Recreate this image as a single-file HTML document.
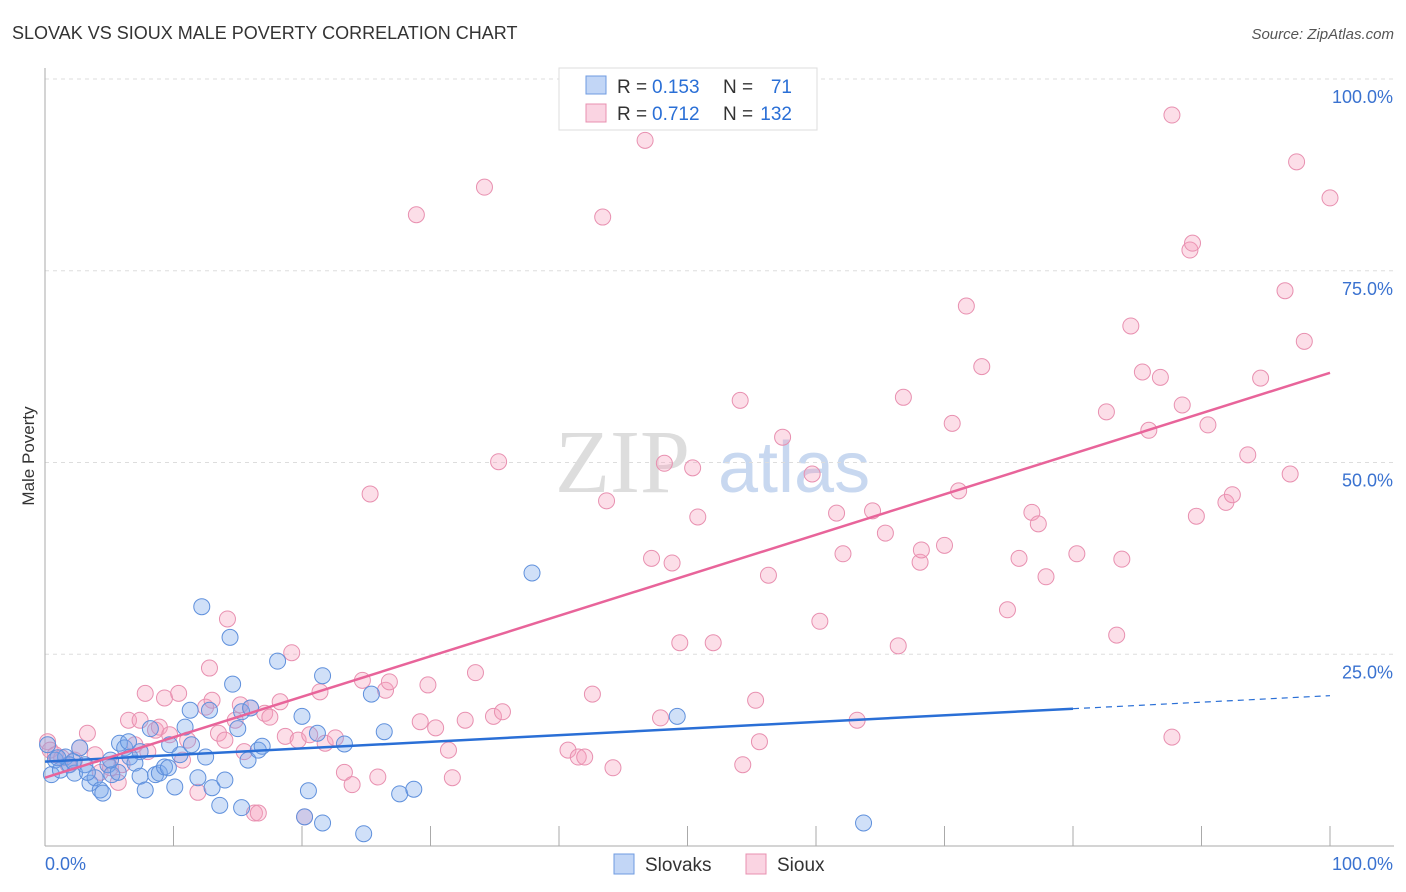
<!DOCTYPE html>
<html><head><meta charset="utf-8"><style>
body{margin:0;background:#fff;font-family:"Liberation Sans",sans-serif;}
svg{display:block}
</style></head><body>
<svg id="chart" width="1406" height="892">
<text x="12" y="39" font-size="18" fill="#333">SLOVAK VS SIOUX MALE POVERTY CORRELATION CHART</text>
<text x="1394" y="39" font-size="15" fill="#555" font-style="italic" text-anchor="end">Source: ZipAtlas.com</text>
<text transform="translate(34,456) rotate(-90)" font-size="17" fill="#333" text-anchor="middle">Male Poverty</text>
<text x="555" y="492" font-size="90" fill="#ddd" font-family="Liberation Serif,serif">ZIP</text>
<text x="718" y="492" font-size="72" fill="#c8d8f0">atlas</text>
<g id="grid"></g>
<g id="pts"></g>
<g id="lines"></g>
<g>
<rect x="559" y="68" width="258" height="62" fill="#fff" stroke="#ddd"/>
<rect x="586" y="76" width="20" height="18" fill="rgba(120,165,235,0.45)" stroke="#6f9be0"/>
<rect x="586" y="104" width="20" height="18" fill="rgba(245,160,190,0.45)" stroke="#e890b0"/>
<g font-size="19">
<text x="617" y="93" fill="#333">R =</text><text x="652" y="93" fill="#2a6fd6">0.153</text>
<text x="723" y="93" fill="#333">N =</text><text x="792" y="93" fill="#2a6fd6" text-anchor="end">71</text>
</g>
<g font-size="19">
<text x="617" y="120" fill="#333">R =</text><text x="652" y="120" fill="#2a6fd6">0.712</text>
<text x="723" y="120" fill="#333">N =</text><text x="792" y="120" fill="#2a6fd6" text-anchor="end">132</text>
</g>
</g>
<g>
<rect x="614" y="854" width="20" height="20" fill="rgba(120,165,235,0.45)" stroke="#6f9be0"/>
<text x="645" y="871" font-size="19" fill="#333">Slovaks</text>
<rect x="746" y="854" width="20" height="20" fill="rgba(245,160,190,0.45)" stroke="#e890b0"/>
<text x="777" y="871" font-size="19" fill="#333">Sioux</text>
</g>
</svg>
<script>
const yTicks=[25,50,75,100];
const yTickLabels=["25.0%","50.0%","75.0%","100.0%"];
const xTicks=[0,10,20,30,40,50,60,70,80,90,100];
const blueX=[.5,.8,1.2,1.6,1.9,2.3,2.7,3.1,3.5,3.9,4.3,4.5,4.9,5.2,5.7,5.8,6.2,6.6,7.0,7.4,7.8,8.2,8.6,8.9,9.3,9.7,10.1,10.5,10.9,11.3,11.4,11.9,12.2,12.5,12.8,13.0,13.6,14.0,14.4,14.6,15.0,15.3,15.3,15.8,16.0,16.6,16.9,18.1,20.0,20.2,20.5,21.2,21.6,21.6,23.3,24.8,25.4,26.4,27.6,28.7,37.9,49.2,63.7,.2,1.0,2.2,3.3,6.5,9.6,5.1,7.4];
const blueY=[9.3,11.2,9.9,11.6,10.6,9.5,12.8,10.6,8.2,8.9,7.3,6.9,10.6,9.3,9.6,13.4,12.8,11.6,10.8,9.1,7.3,15.3,9.3,9.5,10.3,13.2,7.7,11.9,15.5,17.7,13.2,8.9,31.2,11.6,17.7,7.6,5.3,8.6,27.2,21.1,15.3,17.5,5.0,11.2,18.0,12.5,13.0,24.1,16.9,3.8,7.2,14.7,22.2,3.0,13.3,1.6,19.8,14.9,6.8,7.4,35.6,16.9,3.0,13.2,11.5,11.0,9.6,13.6,10.2,11.2,12.3];
const pinkX=[.2,.4,.8,1.3,1.8,2.3,2.7,3.3,3.9,4.3,5.1,5.7,6.0,6.5,7.0,7.4,7.8,8.0,8.6,8.9,9.3,9.7,10.4,10.7,11.1,11.9,12.5,12.8,13.0,13.5,14.0,14.2,14.8,15.2,15.5,16.0,16.3,16.6,17.1,17.5,18.3,18.7,19.2,19.7,20.2,20.6,21.4,21.8,22.6,23.3,23.9,24.7,25.3,25.9,26.5,26.8,28.9,29.2,29.8,30.4,31.4,31.7,32.7,33.5,34.2,34.9,35.6,35.3,40.7,41.5,42.0,42.6,43.4,43.7,44.2,46.7,47.2,47.9,48.2,48.8,49.4,50.4,50.8,52.0,54.1,54.3,55.3,55.6,56.3,57.4,59.7,60.3,61.6,62.1,63.2,64.4,65.4,66.4,66.8,68.1,68.2,70.0,70.6,71.1,71.7,72.9,74.9,75.8,76.8,77.3,77.9,80.3,82.6,83.4,83.8,84.5,85.4,85.9,86.8,87.7,87.7,88.5,89.1,89.3,89.6,90.5,91.9,92.4,93.6,94.6,96.5,96.9,97.4,98.0,100];
const pinkY=[13.6,12.5,11.9,11.5,10.6,11.2,12.8,14.7,11.9,9.6,10.2,8.3,10.6,16.4,13.2,16.4,19.9,12.3,15.1,15.5,19.3,14.5,19.9,11.2,13.8,7.0,18.1,23.2,19.0,14.7,13.8,29.6,16.4,18.4,12.3,18.0,4.3,4.3,17.3,16.8,18.8,14.3,25.2,13.8,3.8,14.5,20.1,13.4,14.1,9.6,8.0,21.6,45.9,9.0,20.3,21.4,82.3,16.2,21.0,15.4,12.5,8.9,16.4,22.6,85.9,16.9,17.5,50.1,12.5,11.6,11.6,19.8,82.0,45.0,10.2,92.0,37.5,16.7,49.9,36.9,26.5,49.3,42.9,26.5,58.1,10.6,19.0,13.6,35.3,53.3,48.5,29.3,43.4,38.1,16.4,43.7,40.8,26.1,58.5,37.0,38.6,39.2,55.1,46.3,70.4,62.5,30.8,37.5,43.5,42.0,35.1,38.1,56.6,27.5,37.4,67.8,61.8,54.2,61.1,95.3,14.2,57.5,77.7,78.6,43.0,54.9,44.8,45.8,51.0,61.0,72.4,48.5,89.2,65.8,84.5];
const blueTrend=[11.0,17.9,19.6]; // at x=0, 80, 100
const pinkTrend=[8.9,61.7]; // at x=0, 100

const NS="http://www.w3.org/2000/svg";
const X0=45,X1=1330,Y0=846,Y100=79;
const sx=v=>X0+(X1-X0)*v/100;
const sy=v=>Y0-(Y0-Y100)*v/100;
function mk(tag,attrs,parent){const e=document.createElementNS(NS,tag);for(const k in attrs)e.setAttribute(k,attrs[k]);parent.appendChild(e);return e;}
const grid=document.getElementById('grid');
yTicks.forEach((t,i)=>{
  const l=mk('line',{x1:X0,x2:1394,y1:sy(t),y2:sy(t),stroke:'#ddd','stroke-dasharray':'4,4'},grid);
  
  
  const tx=mk('text',{x:1393,y:sy(t)+24,'font-size':18,fill:'#3a72d0','text-anchor':'end'},grid);
  tx.textContent=yTickLabels[i];
  
  
});
const ax=mk('line',{x1:X0,x2:X0,y1:68,y2:Y0,stroke:'#aaa'},grid);


const bx=mk('line',{x1:X0,x2:1394,y1:Y0,y2:Y0,stroke:'#aaa'},grid);


xTicks.forEach(t=>{
  const l=mk('line',{x1:sx(t),x2:sx(t),y1:826,y2:Y0,stroke:'#aaa'},grid);
  
  
});
const xl=mk('text',{x:45,y:870,'font-size':18,fill:'#3a72d0'},grid);xl.textContent='0.0%';


const xr=mk('text',{x:1393,y:870,'font-size':18,fill:'#3a72d0','text-anchor':'end'},grid);xr.textContent='100.0%';



const pts=document.getElementById('pts');
pinkX.forEach((x,i)=>{
  const c=mk('circle',{cx:sx(x),cy:sy(pinkY[i]),r:8,fill:'rgba(245,160,190,0.35)',stroke:'#e890b0','stroke-width':1},pts);
  
  
});
blueX.forEach((x,i)=>{
  const c=mk('circle',{cx:sx(x),cy:sy(blueY[i]),r:8,fill:'rgba(120,165,235,0.35)',stroke:'#5f90dc','stroke-width':1},pts);
  
  
});
const lines=document.getElementById('lines');
const b1=mk('line',{x1:sx(0),y1:sy(blueTrend[0]),x2:sx(80),y2:sy(blueTrend[1]),stroke:'#2a6fd6','stroke-width':2.5},lines);


const b2=mk('line',{x1:sx(80),y1:sy(blueTrend[1]),x2:sx(100),y2:sy(blueTrend[2]),stroke:'#2a6fd6','stroke-width':1.2,'stroke-dasharray':'6,5'},lines);


const p1=mk('line',{x1:sx(0),y1:sy(pinkTrend[0]),x2:sx(100),y2:sy(pinkTrend[1]),stroke:'#e8649a','stroke-width':2.5},lines);


</script>
</body></html>
